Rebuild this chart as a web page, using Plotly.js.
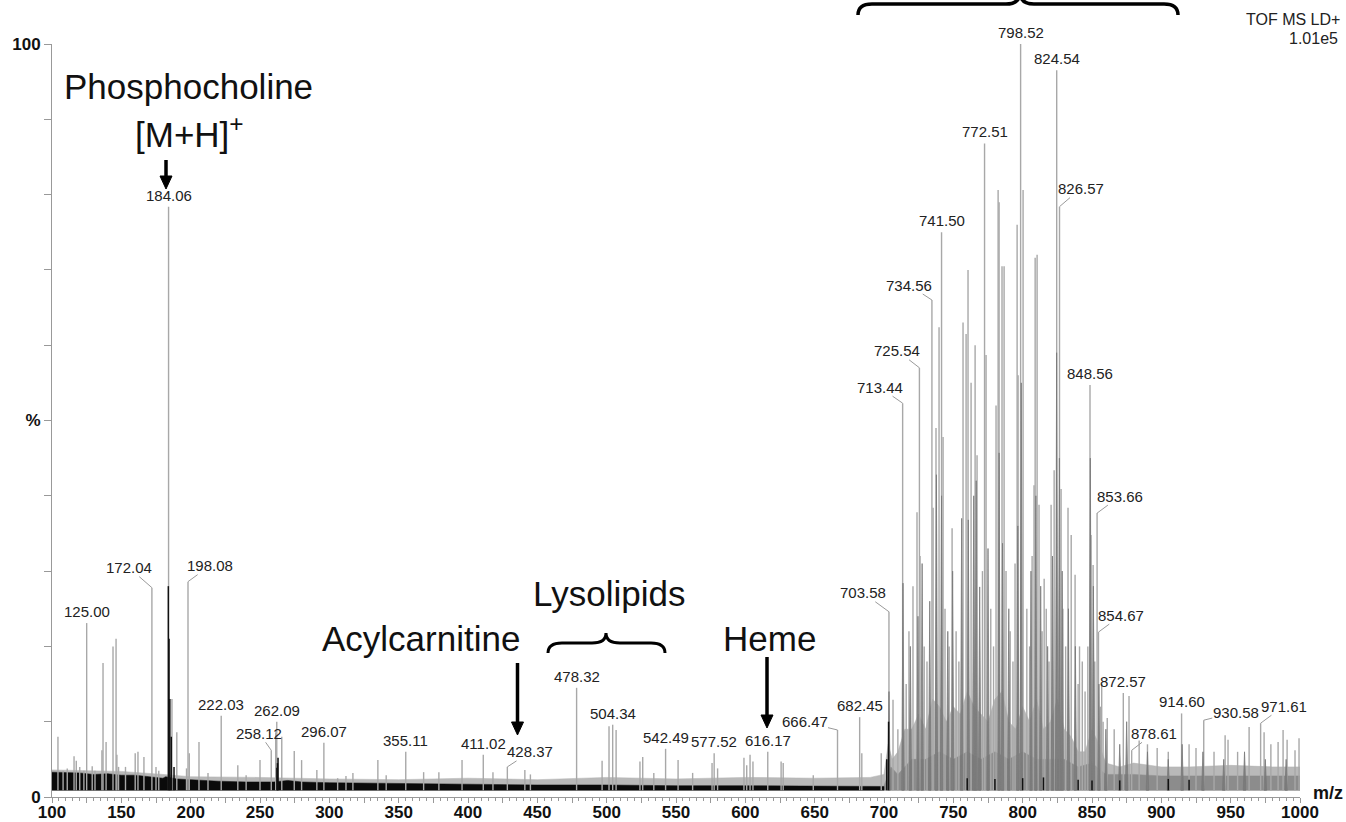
<!DOCTYPE html>
<html><head><meta charset="utf-8">
<script src="https://cdn.plot.ly/plotly-3.0.1.min.js"></script>
<style>html,body{margin:0;padding:0;background:#fff}#chart{width:1346px;height:822px}</style>
</head><body><div id="chart"></div>
<script>
// ================= DATA =================
// Labelled peaks: m/z and relative intensity (%)
const labeledMz  = [125.00,172.04,184.06,198.08,222.03,258.12,262.09,296.07,355.11,411.02,428.37,478.32,504.34,542.49,577.52,616.17,666.47,682.45,703.58,713.44,725.54,734.56,741.50,772.51,798.52,824.54,826.57,848.56,853.66,854.67,872.57,878.61,914.60,930.58,971.61];
const labeledInt = [23.1,27.8,78.4,28.6,10.8,6.2,10.0,7.2,6.0,5.6,4.0,14.5,9.6,6.4,5.8,6.0,8.9,10.6,24.6,52.3,57.0,66.0,75.0,86.8,100,96.5,78.4,54.7,37.7,21.9,13.8,6.2,11.1,10.2,9.8];
const labeledText = ["125.00","172.04","184.06","198.08","222.03","258.12","262.09","296.07","355.11","411.02","428.37","478.32","504.34","542.49","577.52","616.17","666.47","682.45","703.58","713.44","725.54","734.56","741.50","772.51","798.52","824.54","826.57","848.56","853.66","854.67","872.57","878.61","914.60","930.58","971.61"];

// Unlabelled light-grey peaks
const greyMz  = [104.3,108,111,115.9,117.5,120,123,129,131,136,136.8,139,144,146.2,146.8,148,153,160,162,166.3,175,177,186.5,190,197,199,206,212.5,234,240,250,261.3,265.7,274.7,280,291,306,312,317,335,341,368,379,395.7,418,441,445,496.7,501.7,506.8,524,526,534,551.5,562,576,580,599,601,603.4,605.5,625.8,627.3,649,684,698,702,
  706.5,710,716,718,720.9,723.8,726,729,731,735.4,737.5,739.7,742.6,744,747,749.1,752,754,757,759.2,760.6,762.8,765.7,767.1,771,773.6,777,779,780.8,782.3,783,785.1,786.6,788,791,793,794.5,796,796.7,800.3,803,805,806.8,808.2,809,810.4,811.8,814,815.5,817,819,820.5,822.7,827.7,829,831,832.7,835,837.8,840,841,843,845,847,849.3,850.8,852,856,857,858,861,866,876.7,884,890,897,905,920,925,938,946,948.1,955,963.3,974.1,979,984.2,987.8,990.7,996.4,999.3];
const greyInt = [8.0,3.5,3.8,5.4,4.8,4.0,3.5,4.1,3.5,6.2,17.8,7.3,20.0,21.0,5.6,4.0,4.0,5.8,6.0,5.3,4.0,3.5,13.0,8.6,3.8,5.8,7.3,3.2,4.2,2.9,4.9,8.6,8.0,6.1,4.9,3.6,2.5,2.8,3.2,4.9,2.9,3.3,3.3,4.9,3.3,3.6,3.0,4.8,9.4,8.9,4.7,5.3,3.2,4.9,3.2,4.5,3.8,5.2,4.2,5.6,4.7,4.7,4.5,2.9,5.8,5.8,4.5,
  12.9,9,15,22,28.0,37.8,32.0,20,18,38.4,49.0,62.4,47.8,25,20,35.7,22,18,63.0,61.5,70.0,55.0,60.0,45.4,30,58.7,25,20,52.0,80.6,79.0,70.5,70.5,30,22,18,31.0,76.0,56.0,80.6,25,20,32.0,41.4,71.6,72.0,38.8,22,29.0,25,18,38.8,43.4,40.9,25,20,38.4,34.8,29.5,15,20.0,18,14,20,34.8,30.8,18,12,15.0,10,10.5,9.0,13.4,7.5,7.0,6.5,6.0,7.0,6.5,6.0,8.2,7.6,6.0,9.3,8.6,7.0,7.3,8.9,7.6,6.2,7.8];

// Darker grey overlay peaks (second spectrum trace)
const darkMz  = [703.6,713.7,719,724.5,727.5,733,737.8,741.5,746,749.5,756,760.8,764.7,766.5,769,775,783,785.5,790,796.5,799,806,809.5,813,818,821.5,824.5,826.5,828.5,833,838,848.8,851,855,860,870,875,890,905,915,930,945,960,975,990];
const darkInt = [14,28.4,20,24,31,26,42.8,40,22,30,37,36.8,40,42,27.9,33,45.7,33.7,25,36,55,30,40,28,20,32,59,45,30,25,20,45,28,15,9,7,10,6,5,7,6,5,6,5,5];

// Black trace peaks
const blackMz  = [183.9,184.4,185.0,186.0,188.0,262.2,262.6,263.0,703.3,702.0,760,780,800,815,840,850,870,905,920];
const blackInt = [28.0,21.0,13.0,8.0,4.0,3.9,4.5,5.2,10.0,5.0,2.5,2.4,2.5,2.6,2.3,2.2,2.2,2.4,2.3];

// Black noise band (upper edge, %)
const noiseMz  = [100,110,120,130,140,150,160,170,180,182,190,200,220,240,260,270,280,300,350,400,450,500,550,600,650,700];
const noiseTop = [3.3,3.2,3.2,3.0,3.1,2.9,2.9,2.7,2.5,2.7,2.4,2.3,2.1,2.0,2.0,2.2,2.0,1.9,1.8,1.7,1.6,1.6,1.5,1.5,1.4,1.4];

// Light grey envelope (upper edge, %)
const envMz  = [100,120,150,180,200,250,300,350,400,450,500,550,600,650,690,700,703,706,710,715,720,725,730,735,740,745,750,755,760,765,770,775,780,785,790,795,800,805,810,815,820,825,830,835,840,845,850,855,860,870,880,900,920,950,980,1000];
const envTop = [3.6,3.5,3.4,3.0,2.7,2.6,2.4,2.3,2.5,2.3,2.6,2.4,2.6,2.5,2.6,3,7,5,6,9,9,11,9,13,12,10,12,11,14,12,11,10,13,14,10,9,12,10,13,9,10,13,9,8,6,6,9,7,4.5,4,4.5,4,4,4.2,4,4];

// Dark grey dense envelope in the lipid cluster (upper edge, %)
const denseMz  = [700,705,710,720,730,740,750,760,770,780,790,800,810,820,830,840,850,860,880,900,950,1000];
const denseTop = [1.5,4,3,5,5,6,5,6,5,6,5,6,5,5,5,4,4.5,3,3,2.8,2.8,2.8];

// Axis ticks
const xTickVals = [100,125,150,175,200,225,250,275,300,325,350,375,400,425,450,475,500,525,550,575,600,625,650,675,700,725,750,775,800,825,850,875,900,925,950,975,1000];
const xTickText = ["100","","150","","200","","250","","300","","350","","400","","450","","500","","550","","600","","650","","700","","750","","800","","850","","900","","950","","1000"];
const yTickVals = [0,10,20,30,40,50,60,70,80,90,100];
const yTickText = ["0","","","","","%","","","","","100"];

// ================= STYLE / LAYOUT =================
const BASE = 0.9;              // spectrum baseline level (drawing offset)
const TENT = 0.9;              // half-width (m/z) of drawn peak bases for the dark trace
const PL = 52, PR = 1300, PT = 44, PB = 797;  // plot box in pixels
const px = v => (v - PL) / (PR - PL);
const py = v => (PB - v) / (PB - PT);
const FONT = "Liberation Sans, Arial, sans-serif";

function sticks(mz, inten) {
  const x = [], y = [];
  mz.forEach((m, i) => { x.push(m, m, null); y.push(BASE, inten[i], null); });
  return {x, y};
}
function tents(mz, inten) {
  const x = [], y = [];
  mz.forEach((m, i) => { x.push(m - TENT, m, m + TENT, m - TENT, null); y.push(BASE, inten[i], BASE, BASE, null); });
  return {x, y};
}
function band(mz, top) {
  const x = mz.concat(mz.slice().reverse());
  const y = top.concat(mz.map(() => BASE));
  return {x, y};
}

const env = band(envMz, envTop);
const dense = band(denseMz, denseTop);
const noise = band(noiseMz, noiseTop);
const allGreyMz = greyMz.concat(labeledMz);
const allGreyInt = greyInt.concat(labeledInt);
const sg = sticks(allGreyMz, allGreyInt);
const sd = tents(darkMz, darkInt);
const sb = sticks(blackMz, blackInt);

const traces = [
  {x: env.x, y: env.y, type: 'scatter', mode: 'lines', fill: 'toself', fillcolor: '#b9b9b9', line: {width: 0.5, color: '#b0b0b0'}, hoverinfo: 'skip'},
  {x: dense.x, y: dense.y, type: 'scatter', mode: 'lines', fill: 'toself', fillcolor: '#8c8c8c', line: {width: 0.5, color: '#8c8c8c'}, hoverinfo: 'skip'},
  {x: noise.x, y: noise.y, type: 'scatter', mode: 'lines', fill: 'toself', fillcolor: '#0a0a0a', line: {width: 0.5, color: '#0a0a0a'}, hoverinfo: 'skip'},
  {x: sg.x, y: sg.y, type: 'scatter', mode: 'lines', line: {width: 1.4, color: '#a8a8a8'}, connectgaps: false, hoverinfo: 'skip'},
  {x: sd.x, y: sd.y, type: 'scatter', mode: 'lines', fill: 'toself', fillcolor: 'rgba(120,120,120,0.85)', line: {width: 0.8, color: '#787878'}, connectgaps: false, hoverinfo: 'skip'},
  {x: sb.x, y: sb.y, type: 'scatter', mode: 'lines', line: {width: 1.5, color: '#111111'}, connectgaps: false, hoverinfo: 'skip'}
];

// leader offsets (pixels) for labels that are shifted from their peak
const leader = {
  "172.04": [-23, -20], "198.08": [22, -16], "258.12": [-12, -17], "428.37": [23, -15],
  "666.47": [-33, -8], "703.58": [-26, -19], "713.44": [-23, -16], "725.54": [-22, -17],
  "734.56": [-23, -15], "826.57": [21, -18], "853.66": [23, -17], "854.67": [23, -17],
  "878.61": [22, -17], "930.58": [32, -8], "971.61": [23, -17]
};

const annotations = labeledMz.map((m, i) => {
  const t = labeledText[i];
  const base = {x: m, y: labeledInt[i], xref: 'x', yref: 'y', text: t,
    font: {family: FONT, size: 15, color: '#222'}};
  if (leader[t]) {
    return Object.assign(base, {showarrow: true, arrowhead: 0, arrowwidth: 1, arrowcolor: '#9a9a9a',
      ax: leader[t][0], ay: leader[t][1], standoff: 0, borderpad: 0});
  }
  return Object.assign(base, {showarrow: false, yanchor: 'bottom', yshift: 1});
});

const big = {family: FONT, size: 35, color: '#111'};
function txt(text, x, y, font, xanchor) {
  return {text, xref: 'paper', yref: 'paper', x: px(x), y: py(y), showarrow: false,
    xanchor: xanchor || 'center', yanchor: 'middle', font};
}
annotations.push(
  txt('Phosphocholine', 188, 87, big),
  txt('[M+H]<sup>+</sup>', 189, 132, big),
  txt('Acylcarnitine', 421, 638, big),
  txt('Lysolipids', 609, 593, big),
  txt('Heme', 769, 638, big),
  txt('TOF MS LD+', 1342, 19, {family: FONT, size: 16, color: '#222'}, 'right'),
  txt('1.01e5', 1340, 38, {family: FONT, size: 16, color: '#222'}, 'right'),
  txt('m/z', 1345, 793, {family: FONT, size: 18, color: '#111', weight: 'bold'}, 'right')
);

function arrowShapes(x, y0, y1) {
  const hl = 13, hw = 6;
  return [
    {type: 'line', xref: 'paper', yref: 'paper', x0: px(x), x1: px(x), y0: py(y0), y1: py(y1 - hl + 2),
      line: {color: '#000', width: 3.5}},
    {type: 'path', xref: 'paper', yref: 'paper',
      path: `M ${px(x - hw)} ${py(y1 - hl)} L ${px(x + hw)} ${py(y1 - hl)} L ${px(x)} ${py(y1)} Z`,
      fillcolor: '#000', line: {color: '#000', width: 1}}
  ];
}
function braceShape(x0, x1, yLine, yEnd, xm, yTip, w) {
  const r = 14;
  const p = `M ${px(x0)} ${py(yEnd)} Q ${px(x0)} ${py(yLine)} ${px(x0 + r)} ${py(yLine)} ` +
    `L ${px(xm - r)} ${py(yLine)} Q ${px(xm)} ${py(yLine)} ${px(xm)} ${py(yTip)} ` +
    `Q ${px(xm)} ${py(yLine)} ${px(xm + r)} ${py(yLine)} ` +
    `L ${px(x1 - r)} ${py(yLine)} Q ${px(x1)} ${py(yLine)} ${px(x1)} ${py(yEnd)}`;
  return {type: 'path', xref: 'paper', yref: 'paper', path: p, line: {color: '#000', width: w}};
}

const shapes = [].concat(
  arrowShapes(166, 160, 189),
  arrowShapes(517.5, 663, 735),
  arrowShapes(767, 657, 728),
  [braceShape(548, 665, 643, 653, 606, 633, 3),
   braceShape(858, 1178, 4, 15, 1020, -8, 3.5)]
);

const layout = {
  width: 1346, height: 822, autosize: false,
  margin: {l: PL, r: 1346 - PR, t: PT, b: 822 - PB, pad: 0},
  paper_bgcolor: '#fff', plot_bgcolor: '#fff', showlegend: false,
  font: {family: FONT},
  xaxis: {range: [100, 1000], showline: true, linecolor: '#999', linewidth: 1, mirror: false,
    ticks: 'outside', ticklen: 5, tickcolor: '#999', tickwidth: 1,
    tickmode: 'array', tickvals: xTickVals, ticktext: xTickText,
    tickfont: {family: FONT, size: 17, color: '#111', weight: 'bold'},
    ticklabelstandoff: -5,
    showgrid: false, zeroline: false, automargin: false,
    minor: {dtick: 5, tick0: 100, ticks: 'outside', ticklen: 3, tickcolor: '#999', showgrid: false}},
  yaxis: {range: [0, 100], showline: true, linecolor: '#999', linewidth: 1,
    ticks: 'outside', ticklen: 7, tickcolor: '#999',
    tickmode: 'array', tickvals: yTickVals, ticktext: yTickText,
    tickfont: {family: FONT, size: 17, color: '#111', weight: 'bold'},
    showgrid: false, zeroline: false, automargin: false},
  annotations, shapes
};

Plotly.newPlot('chart', traces, layout, {staticPlot: true, displayModeBar: false});
</script></body></html>
